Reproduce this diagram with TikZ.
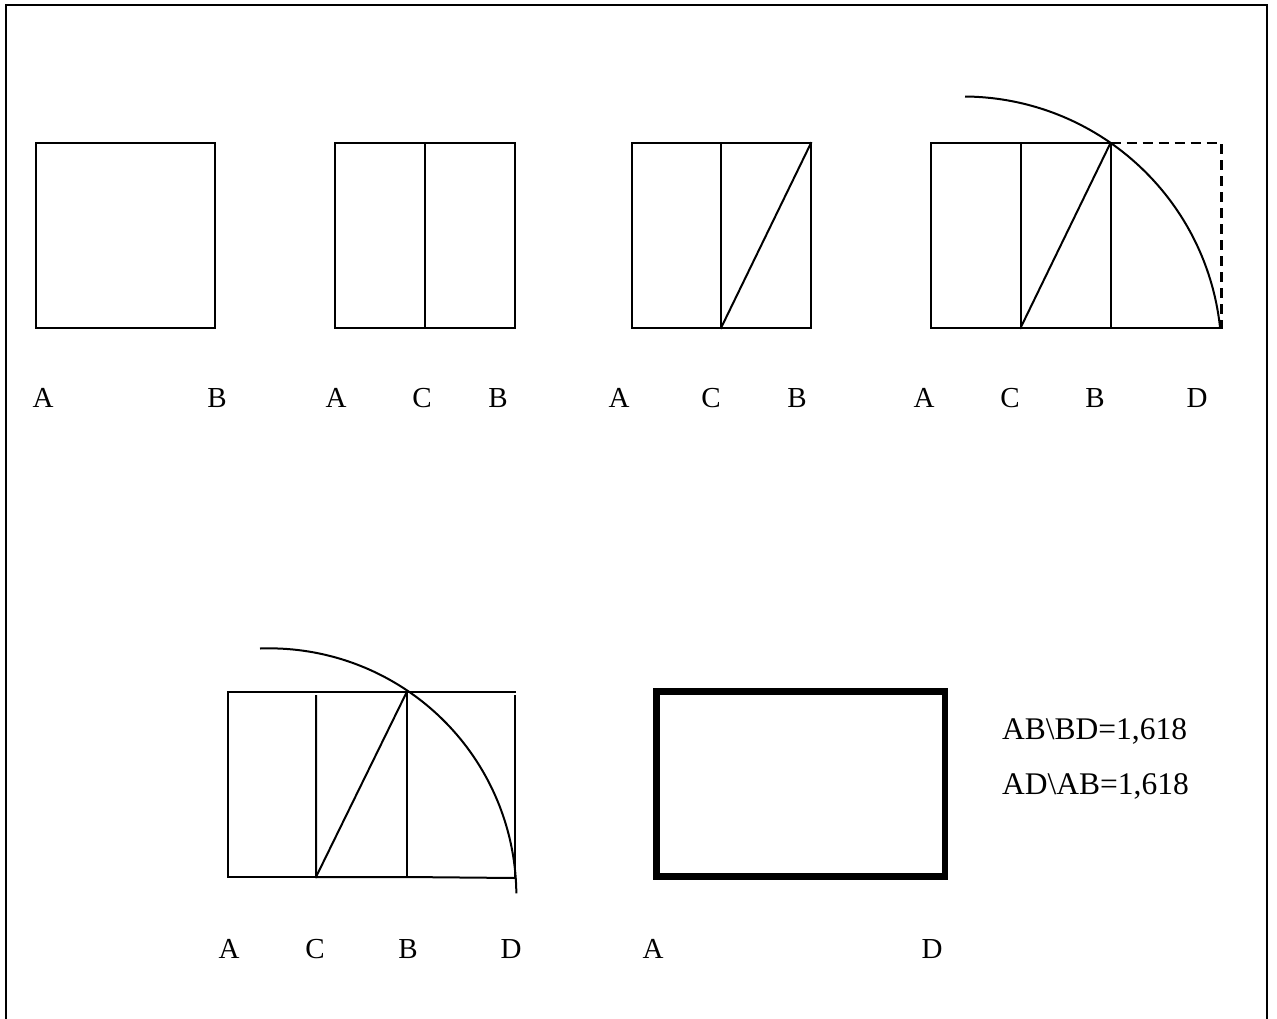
\documentclass[tikz,border=0pt]{standalone}
\usepackage{fontspec}
\setmainfont{Liberation Serif}
\begin{document}
\begin{tikzpicture}[x=1pt,y=-1pt,
  thin line/.style={line width=2pt, line cap=rect, line join=miter},
  lbl/.style={font=\fontsize{29}{34}\selectfont, inner sep=0pt},
  ratio/.style={font=\fontsize{31.5}{36}\selectfont, inner sep=0pt, anchor=base west}]
\useasboundingbox (0,0) rectangle (1277,1018);
% frame
\draw[line width=2pt] (5.5,1020) -- (5.5,5) -- (1267,5) -- (1267,1020);
% shape 1
\draw[thin line] (36,143) rectangle (215,328);
% shape 2
\draw[thin line] (335,143) rectangle (515,328);
\draw[thin line] (425,143) -- (425,328);
% shape 3
\draw[thin line] (632,143) rectangle (811,328);
\draw[thin line] (721,143) -- (721,328);
\draw[thin line] (721,328) -- (811,143);
% shape 4
\draw[thin line] (931,143) rectangle (1110.5,328);
\draw[thin line] (1020.5,143) -- (1020.5,328);
\draw[thin line] (1020.5,328) -- (1110.5,143);
\draw[thin line] (1110.5,328) -- (1221.5,328);
\draw[line width=2.6pt, line cap=butt, dash pattern=on 10pt off 6pt] (1110.5,143) -- (1221.5,143) -- (1221.5,328);
\draw[line width=2pt] (965,96.5) arc[start angle=-89.5, end angle=-6.2, radius=258.8];
% shape 5
\draw[thin line] (316,877) -- (228,877) -- (228,691.5) -- (515,691.5);
\draw[thin line] (316,696) -- (316,877) -- (407,877) -- (515,878);
\draw[thin line] (407,691.5) -- (407,877);
\draw[thin line] (515,696) -- (515,878);
\draw[thin line] (316,877) -- (407,691.5);
\draw[line width=2pt] (260,648.5) arc[start angle=-92.1, end angle=-0.5, radius=247.3];
% shape 6
\draw[line width=6.5pt, line join=miter] (656.5,691.5) rectangle (945,876.5);
% labels row 1
\node[lbl] (a1) at (43,398) {A};
\node[lbl] (b1) at (217,398) {B};
\node[lbl] (a2) at (336,398) {A};
\node[lbl] (c2) at (422,398) {C};
\node[lbl] (b2) at (498,398) {B};
\node[lbl] (a3) at (619,398) {A};
\node[lbl] (c3) at (711,398) {C};
\node[lbl] (b3) at (797,398) {B};
\node[lbl] (a4) at (924,398) {A};
\node[lbl] (c4) at (1010,398) {C};
\node[lbl] (b4) at (1095,398) {B};
\node[lbl] (d4) at (1197,398) {D};
% labels row 2
\node[lbl] (a5) at (229,949) {A};
\node[lbl] (c5) at (315,949) {C};
\node[lbl] (b5) at (408,949) {B};
\node[lbl] (d5) at (511,949) {D};
\node[lbl] (a6) at (653,949) {A};
\node[lbl] (d6) at (932,949) {D};
% ratios
\node[ratio] (r1) at (1002,739.5) {AB\textbackslash BD=1,618};
\node[ratio] (r2) at (1002,794) {AD\textbackslash AB=1,618};
\end{tikzpicture}
\end{document}
